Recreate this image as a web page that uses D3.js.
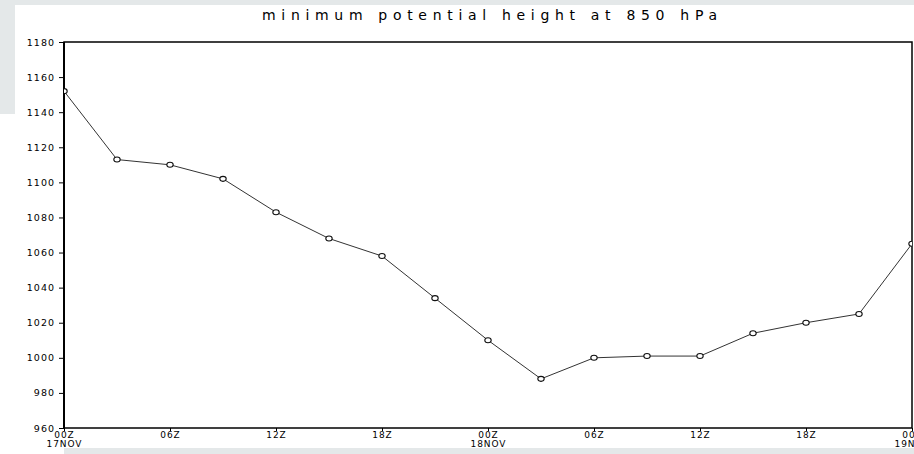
<!DOCTYPE html>
<html>
<head>
<meta charset="utf-8">
<script src="https://cdn.jsdelivr.net/npm/d3@7"></script>
<style>
  body { margin: 0; background: #e4e8e9; }
  svg { display: block; }
</style>
</head>
<body>
<script>
// forecast hours (3-hourly) and minimum potential height (gpm)
var hours = [0, 3, 6, 9, 12, 15, 18, 21, 24, 27, 30, 33, 36, 39, 42, 45, 48];
var heights = [1152, 1113, 1110, 1102, 1083, 1068, 1058, 1034, 1010, 988, 1000, 1001, 1001, 1014, 1020, 1025, 1065];
var yTicks = [960, 980, 1000, 1020, 1040, 1060, 1080, 1100, 1120, 1140, 1160, 1180];
var xTickHours = [0, 6, 12, 18, 24, 30, 36, 42, 48];
var xTickTime = ["00Z", "06Z", "12Z", "18Z", "00Z", "06Z", "12Z", "18Z", "00Z"];
var xTickDate = ["17NOV", "", "", "", "18NOV", "", "", "", "19NOV"];
var title = "minimum potential height at 850 hPa";

var w = 914, h = 454;
var pLeft = 64, pRight = 912, pTop = 42, pBottom = 428;

var svg = d3.select("body").append("svg")
    .attr("width", w)
    .attr("height", h);

// screenshot-like background pieces
svg.append("rect").attr("x", 0).attr("y", 0).attr("width", w).attr("height", h).attr("fill", "#e4e8e9");
svg.append("rect").attr("x", 15).attr("y", 5).attr("width", w - 15).attr("height", 443).attr("fill", "#fff");
svg.append("rect").attr("x", 0).attr("y", 114).attr("width", 64).attr("height", h - 114).attr("fill", "#fff");

var x = d3.scaleLinear().domain([0, 48]).range([pLeft, pRight]);
var y = d3.scaleLinear().domain([960, 1180]).range([pBottom, pTop]);

svg.append("text")
    .attr("x", 262).attr("y", 20)
    .attr("textLength", 455).attr("lengthAdjust", "spacing")
    .style("font-family", "DejaVu Sans")
    .style("font-size", "14px")
    .attr("fill", "#000")
    .text(title);

svg.append("defs").append("clipPath").attr("id", "plot")
  .append("rect").attr("x", pLeft).attr("y", pTop).attr("width", pRight - pLeft).attr("height", pBottom - pTop);

// y axis
var yAxis = svg.append("g")
    .attr("transform", "translate(" + pLeft + ",0)")
    .call(d3.axisLeft(y).tickValues(yTicks).tickSize(5).tickPadding(4).tickFormat(d3.format("d")));
yAxis.select(".domain").remove();
yAxis.selectAll("text")
    .style("font-family", "DejaVu Sans")
    .style("font-size", "9.5px")
    .style("letter-spacing", "1px")
    .attr("fill", "#000");

// x axis
var xAxis = svg.append("g")
    .attr("transform", "translate(0," + pBottom + ")")
    .call(d3.axisBottom(x).tickValues(xTickHours).tickSize(3).tickFormat(""));
xAxis.select(".domain").remove();
xAxis.selectAll(".tick").each(function(d, i) {
  var t = d3.select(this).append("text")
      .attr("fill", "#000")
      .attr("text-anchor", "middle")
      .style("font-family", "DejaVu Sans")
      .style("font-size", "9px")
      .style("letter-spacing", "0.9px");
  t.append("tspan").attr("x", 0).attr("y", 10).text(xTickTime[i]);
  t.append("tspan").attr("x", 0).attr("y", 19).text(xTickDate[i]);
});

// frame
svg.append("rect")
    .attr("x", pLeft).attr("y", pTop)
    .attr("width", pRight - pLeft).attr("height", pBottom - pTop)
    .attr("fill", "none").attr("stroke", "#000").attr("stroke-width", 1.5);
svg.append("line").attr("x1", pLeft).attr("x2", pLeft).attr("y1", pTop).attr("y2", pBottom)
    .attr("stroke", "#000").attr("stroke-width", 2);

var data = hours.map(function(d, i) { return {h: d, v: heights[i]}; });

var g = svg.append("g").attr("clip-path", "url(#plot)");

g.append("path")
    .datum(data)
    .attr("fill", "none")
    .attr("stroke", "#333")
    .attr("stroke-width", 1)
    .attr("d", d3.line().x(function(d) { return x(d.h); }).y(function(d) { return y(d.v); }));

g.selectAll("ellipse")
    .data(data)
  .enter().append("ellipse")
    .attr("cx", function(d) { return x(d.h); })
    .attr("cy", function(d) { return y(d.v); })
    .attr("rx", 3.2)
    .attr("ry", 2.5)
    .attr("fill", "#fff")
    .attr("stroke", "#111")
    .attr("stroke-width", 1.1);
</script>
</body>
</html>
